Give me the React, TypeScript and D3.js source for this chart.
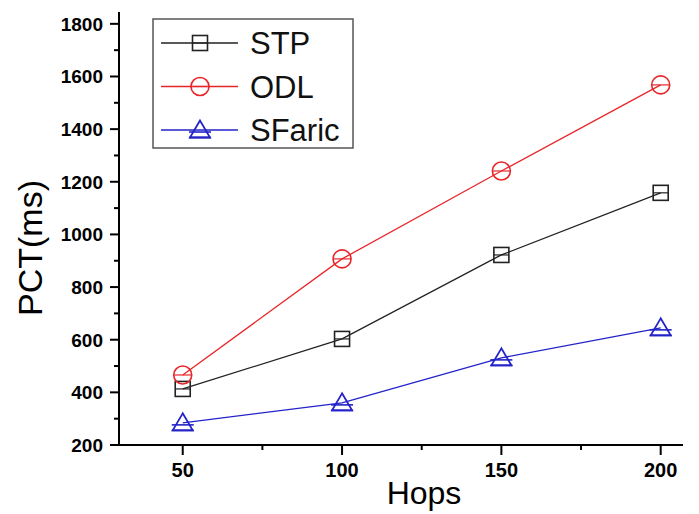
import { useEffect, useRef } from 'react'
import * as d3 from 'd3'

const hops = [50, 100, 150, 200]
const stp = [413, 603, 922, 1158]
const odl = [466, 907, 1241, 1568]
const sfaric = [284, 360, 531, 645]

const yMajor = [200, 400, 600, 800, 1000, 1200, 1400, 1600, 1800]
const yMinor = [300, 500, 700, 900, 1100, 1300, 1500, 1700]
const xMajor = [50, 100, 150, 200]
const xMinor = [75, 125, 175]

const series = [
    { name: 'STP', values: stp, color: '#222222', marker: 'square' },
    { name: 'ODL', values: odl, color: '#e8262a', marker: 'circle' },
    { name: 'SFaric', values: sfaric, color: '#2323c8', marker: 'triangle' },
]

const W = 699
const H = 514

function drawMarker(g: any, kind: string, color: string) {
    if (kind === 'square') {
        g.append('rect').attr('x', -7.5).attr('y', -7.5).attr('width', 15).attr('height', 15)
            .attr('fill', 'none').attr('stroke', color).attr('stroke-width', 1.6)
        g.append('line').attr('x1', -7.5).attr('x2', 7.5).attr('y1', 0).attr('y2', 0)
            .attr('stroke', color).attr('stroke-width', 1.2)
    } else if (kind === 'circle') {
        g.append('circle').attr('r', 9)
            .attr('fill', 'none').attr('stroke', color).attr('stroke-width', 1.6)
        g.append('line').attr('x1', -9).attr('x2', 9).attr('y1', 0).attr('y2', 0)
            .attr('stroke', color).attr('stroke-width', 1.2)
    } else {
        g.append('path').attr('d', 'M0,-9.5L-10,7.5L10,7.5Z')
            .attr('fill', 'none').attr('stroke', color).attr('stroke-width', 1.8)
        g.append('line').attr('x1', -11).attr('x2', 11).attr('y1', 2).attr('y2', 2)
            .attr('stroke', color).attr('stroke-width', 1.6)
        g.append('line').attr('x1', -11).attr('x2', 11).attr('y1', 7.5).attr('y2', 7.5)
            .attr('stroke', color).attr('stroke-width', 1.8)
    }
}

export default function App() {
    const svgRef = useRef<SVGSVGElement | null>(null)

    useEffect(() => {
        if (!svgRef.current) return
        const svg = d3.select(svgRef.current)
        svg.selectAll('*').remove()

        const x = d3.scaleLinear().domain([30, 207]).range([119, 683])
        const y = d3.scaleLinear().domain([200, 1845]).range([445, 12])
        const font = 'Arial, "Liberation Sans", sans-serif'

        // series lines + markers
        series.forEach(s => {
            const pts = hops.map((h, i) => [x(h), y(s.values[i])] as [number, number])
            svg.append('path')
                .attr('d', d3.line()(pts))
                .attr('fill', 'none')
                .attr('stroke', s.color)
                .attr('stroke-width', 1.3)
            pts.forEach(p => {
                const m = svg.append('g').attr('transform', `translate(${p[0]},${p[1]})`)
                drawMarker(m, s.marker, s.color)
            })
        })

        // axes
        const ax = svg.append('g').attr('stroke', '#000').attr('stroke-width', 2)
        ax.append('line').attr('x1', 119).attr('x2', 119).attr('y1', 12).attr('y2', 446)
        ax.append('line').attr('x1', 118).attr('x2', 683).attr('y1', 445).attr('y2', 445)
        yMajor.forEach(v => ax.append('line').attr('x1', 110).attr('x2', 119).attr('y1', y(v)).attr('y2', y(v)))
        yMinor.forEach(v => ax.append('line').attr('x1', 114).attr('x2', 119).attr('y1', y(v)).attr('y2', y(v)))
        xMajor.forEach(v => ax.append('line').attr('x1', x(v)).attr('x2', x(v)).attr('y1', 445).attr('y2', 455))
        xMinor.forEach(v => ax.append('line').attr('x1', x(v)).attr('x2', x(v)).attr('y1', 445).attr('y2', 450))

        svg.append('g').selectAll('text')
            .data(yMajor).enter().append('text')
            .attr('x', 103).attr('y', d => y(d)).attr('dy', '0.36em')
            .attr('text-anchor', 'end')
            .attr('font-family', font).attr('font-weight', 'bold').attr('font-size', 19)
            .text(d => d)

        svg.append('g').selectAll('text')
            .data(xMajor).enter().append('text')
            .attr('x', d => x(d)).attr('y', 477)
            .attr('text-anchor', 'middle')
            .attr('font-family', font).attr('font-weight', 'bold').attr('font-size', 20)
            .text(d => d)

        svg.append('text')
            .attr('x', 424).attr('y', 504)
            .attr('text-anchor', 'middle')
            .attr('font-family', font).attr('font-size', 32)
            .text('Hops')

        svg.append('text')
            .attr('transform', 'translate(42,248) rotate(-90)')
            .attr('text-anchor', 'middle')
            .attr('font-family', font).attr('font-size', 34)
            .text('PCT(ms)')

        // legend
        const lg = svg.append('g')
        lg.append('rect').attr('x', 153).attr('y', 19).attr('width', 200).attr('height', 129)
            .attr('fill', '#fff').attr('stroke', '#555').attr('stroke-width', 1.5)
        series.forEach((s, i) => {
            const cy = 43 + i * 43.5
            lg.append('line').attr('x1', 161).attr('x2', 238).attr('y1', cy).attr('y2', cy)
                .attr('stroke', s.color).attr('stroke-width', 1.3)
            const m = lg.append('g').attr('transform', `translate(200,${cy})`)
            drawMarker(m, s.marker, s.color)
            lg.append('text').attr('x', 250).attr('y', cy).attr('dy', '0.36em')
                .attr('font-family', font).attr('font-size', 31)
                .attr('fill', '#111')
                .text(s.name)
        })
    }, [])

    return (
        <div style={{ position: 'absolute', left: 0, top: 0 }}>
            <svg ref={svgRef} width={W} height={H} style={{ display: 'block', background: '#fff' }} />
        </div>
    )
}
